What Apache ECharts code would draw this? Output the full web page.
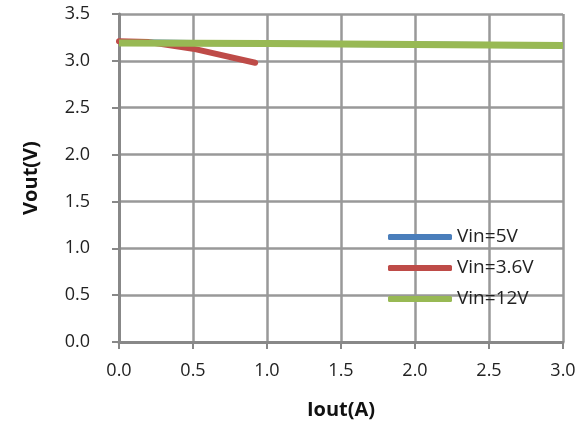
<!DOCTYPE html>
<html>
<head>
<meta charset="utf-8">
<script src="https://cdn.jsdelivr.net/npm/echarts@6/dist/echarts.min.js"></script>
<style>
  html, body { margin: 0; padding: 0; background: #fff; }
  #main { width: 582px; height: 432px; }
</style>
</head>
<body>
<div id="main"></div>
<script>
  // data
  var iout5 = [0, 0.5, 1.0, 1.5, 2.0, 2.5, 3.0];
  var vout5 = [3.2, 3.19, 3.185, 3.18, 3.175, 3.17, 3.165];
  var iout36 = [0, 0.2, 0.5, 0.92];
  var vout36 = [3.21, 3.2, 3.13, 2.98];
  var iout12 = [0, 0.5, 1.0, 1.5, 2.0, 2.5, 3.0];
  var vout12 = [3.19, 3.188, 3.185, 3.18, 3.175, 3.17, 3.165];

  function pairs(xs, ys) {
    var out = [];
    for (var i = 0; i < xs.length; i++) out.push([xs[i], ys[i]]);
    return out;
  }

  var myChart = echarts.init(document.getElementById('main'));
  var fontName = '"Open Sans", sans-serif';
  var option = {
    backgroundColor: '#fff',
    animation: false,
    grid: { left: 119, right: 19, top: 14, bottom: 90 },
    legend: {
      orient: 'vertical',
      left: 383,
      top: 222,
      itemWidth: 64,
      itemHeight: 6,
      itemGap: 11,
      icon: 'roundRect',
      itemStyle: { borderWidth: 0 },
      textStyle: { fontFamily: fontName, fontSize: 19, lineHeight: 20, color: '#222' },
      data: ['Vin=5V', 'Vin=3.6V', 'Vin=12V']
    },
    xAxis: {
      type: 'value',
      min: 0, max: 3, interval: 0.5,
      name: 'Iout(A)',
      nameLocation: 'middle',
      nameGap: 58,
      nameTextStyle: { fontFamily: fontName, fontSize: 20, fontWeight: 'bold', color: '#111' },
      axisLine: { show: true, lineStyle: { color: '#888', width: 3 } },
      axisTick: { show: true, length: 7, lineStyle: { color: '#888', width: 2 } },
      axisLabel: { margin: 20, fontFamily: fontName, fontSize: 18, color: '#222',
        formatter: function (v) { return v.toFixed(1); } },
      splitLine: { show: true, lineStyle: { color: '#999', width: 2.5 } }
    },
    yAxis: {
      type: 'value',
      min: 0, max: 3.5, interval: 0.5,
      name: 'Vout(V)',
      nameLocation: 'middle',
      nameGap: 78,
      nameTextStyle: { fontFamily: fontName, fontSize: 20, fontWeight: 'bold', color: '#111' },
      axisLine: { show: true, lineStyle: { color: '#888', width: 3 } },
      axisTick: { show: true, length: 7, lineStyle: { color: '#888', width: 2 } },
      axisLabel: { margin: 29, fontFamily: fontName, fontSize: 18, color: '#222',
        formatter: function (v) { return v.toFixed(1); } },
      splitLine: { show: true, lineStyle: { color: '#999', width: 2.5 } }
    },
    series: [{
      name: 'Vin=5V',
      type: 'line',
      data: pairs(iout5, vout5),
      showSymbol: false,
      color: '#4a7ebb',
      lineStyle: { width: 6, cap: 'butt' }
    }, {
      name: 'Vin=3.6V',
      type: 'line',
      data: pairs(iout36, vout36),
      showSymbol: false,
      color: '#be4b48',
      lineStyle: { width: 6, cap: 'round' }
    }, {
      name: 'Vin=12V',
      type: 'line',
      data: pairs(iout12, vout12),
      showSymbol: false,
      color: '#98b954',
      lineStyle: { width: 7 }
    }]
  };
  myChart.setOption(option);
</script>
</body>
</html>
